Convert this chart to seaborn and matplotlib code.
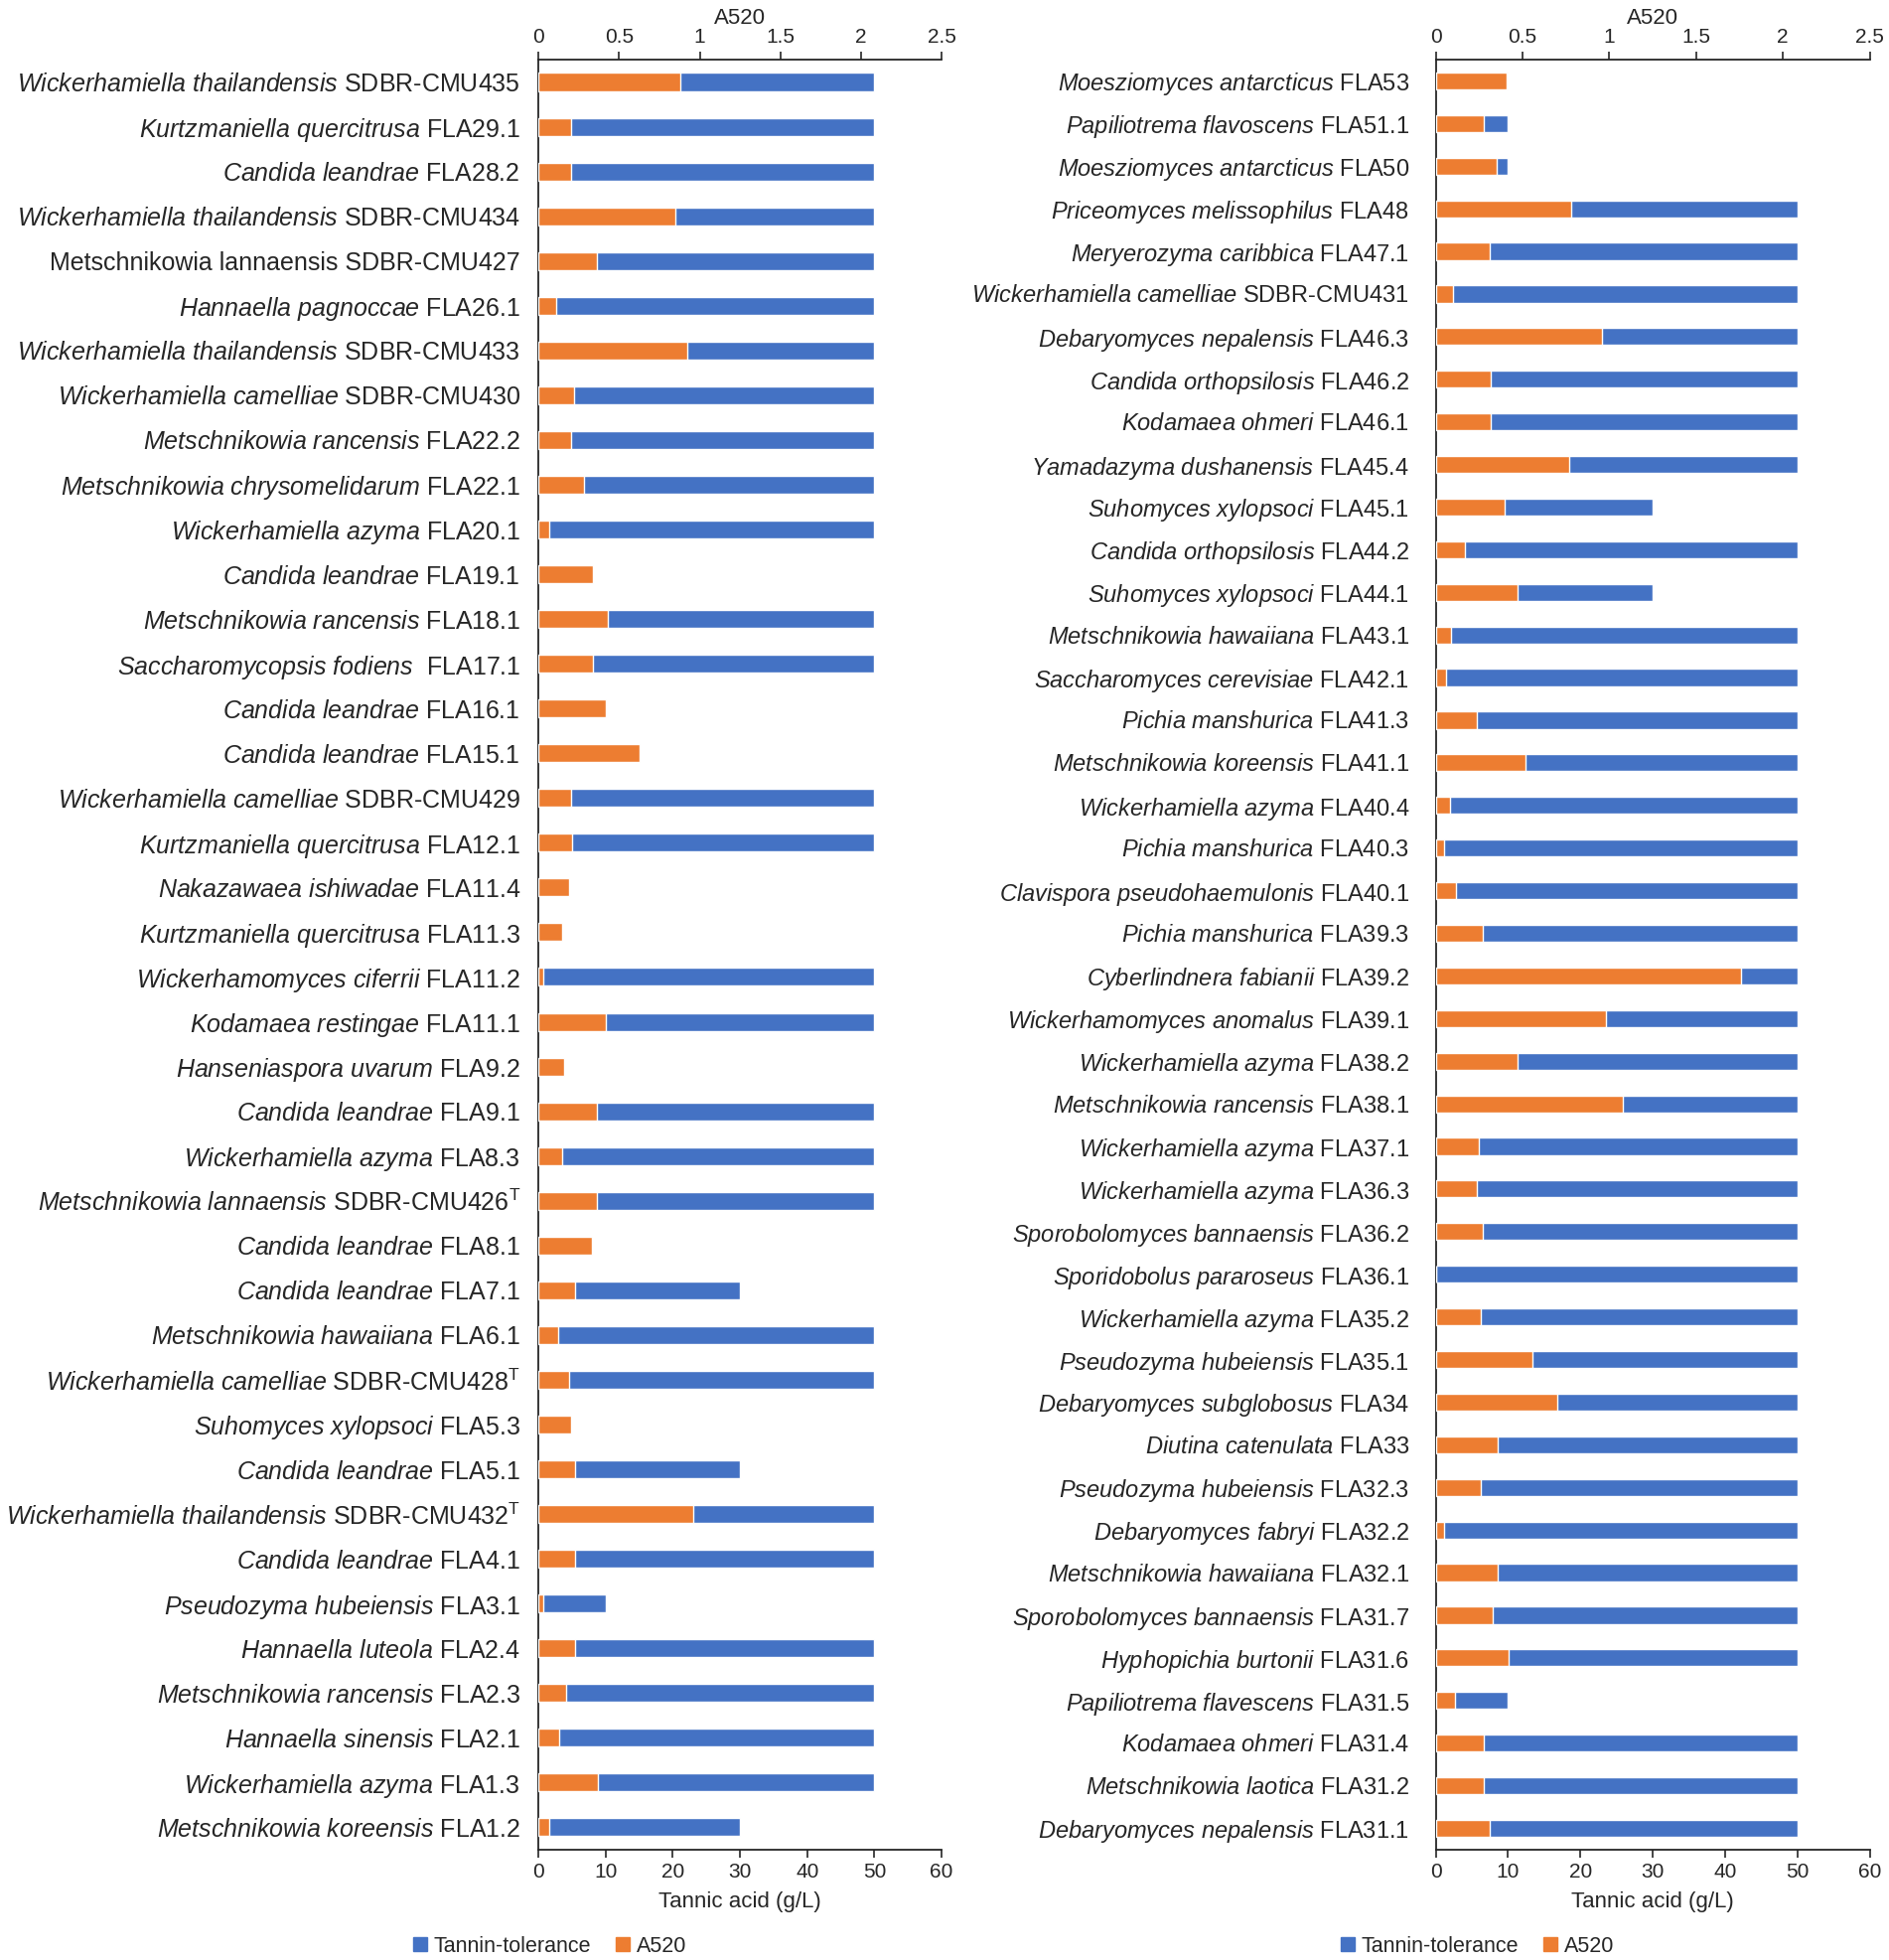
import matplotlib
matplotlib.use("Agg")
import matplotlib.pyplot as plt
from matplotlib import font_manager
from matplotlib.patches import Patch
import seaborn as sns
import pandas as pd

BLUE = "#4472C4"
ORANGE = "#ED7D31"

# --- left panel (top to bottom) ---
left_species = [
    "Wickerhamiella thailandensis", "Kurtzmaniella quercitrusa", "Candida leandrae",
    "Wickerhamiella thailandensis", "Metschnikowia lannaensis", "Hannaella pagnoccae",
    "Wickerhamiella thailandensis", "Wickerhamiella camelliae", "Metschnikowia rancensis",
    "Metschnikowia chrysomelidarum", "Wickerhamiella azyma", "Candida leandrae",
    "Metschnikowia rancensis", "Saccharomycopsis fodiens", "Candida leandrae",
    "Candida leandrae", "Wickerhamiella camelliae", "Kurtzmaniella quercitrusa",
    "Nakazawaea ishiwadae", "Kurtzmaniella quercitrusa", "Wickerhamomyces ciferrii",
    "Kodamaea restingae", "Hanseniaspora uvarum", "Candida leandrae",
    "Wickerhamiella azyma", "Metschnikowia lannaensis", "Candida leandrae",
    "Candida leandrae", "Metschnikowia hawaiiana", "Wickerhamiella camelliae",
    "Suhomyces xylopsoci", "Candida leandrae", "Wickerhamiella thailandensis",
    "Candida leandrae", "Pseudozyma hubeiensis", "Hannaella luteola",
    "Metschnikowia rancensis", "Hannaella sinensis", "Wickerhamiella azyma",
    "Metschnikowia koreensis",
]
left_strains = [
    "SDBR-CMU435", "FLA29.1", "FLA28.2", "SDBR-CMU434", "SDBR-CMU427", "FLA26.1",
    "SDBR-CMU433", "SDBR-CMU430", "FLA22.2", "FLA22.1", "FLA20.1", "FLA19.1",
    "FLA18.1", " FLA17.1", "FLA16.1", "FLA15.1", "SDBR-CMU429", "FLA12.1",
    "FLA11.4", "FLA11.3", "FLA11.2", "FLA11.1", "FLA9.2", "FLA9.1", "FLA8.3",
    "SDBR-CMU426$^{\\mathrm{T}}$", "FLA8.1", "FLA7.1", "FLA6.1",
    "SDBR-CMU428$^{\\mathrm{T}}$", "FLA5.3", "FLA5.1",
    "SDBR-CMU432$^{\\mathrm{T}}$", "FLA4.1", "FLA3.1", "FLA2.4", "FLA2.3",
    "FLA2.1", "FLA1.3", "FLA1.2",
]
# species names printed upright in the source figure
left_upright = ["SDBR-CMU427"]
left_tolerance = [50, 50, 50, 50, 50, 50, 50, 50, 50, 50, 50, 0, 50, 50, 0, 0, 50, 50, 0, 0,
                  50, 50, 0, 50, 50, 50, 0, 30, 50, 50, 0, 30, 50, 50, 10, 50, 50, 50, 50, 30]
left_a520 = [0.88, 0.20, 0.20, 0.85, 0.36, 0.11, 0.92, 0.22, 0.20, 0.28, 0.07, 0.34, 0.43,
             0.34, 0.42, 0.63, 0.20, 0.21, 0.19, 0.15, 0.03, 0.42, 0.16, 0.36, 0.15, 0.36,
             0.33, 0.23, 0.12, 0.19, 0.20, 0.23, 0.96, 0.23, 0.03, 0.23, 0.17, 0.13, 0.37,
             0.07]

# --- right panel (top to bottom) ---
right_species = [
    "Moesziomyces antarcticus", "Papiliotrema flavoscens", "Moesziomyces antarcticus",
    "Priceomyces melissophilus", "Meryerozyma caribbica", "Wickerhamiella camelliae",
    "Debaryomyces nepalensis", "Candida orthopsilosis", "Kodamaea ohmeri",
    "Yamadazyma dushanensis", "Suhomyces xylopsoci", "Candida orthopsilosis",
    "Suhomyces xylopsoci", "Metschnikowia hawaiiana", "Saccharomyces cerevisiae",
    "Pichia manshurica", "Metschnikowia koreensis", "Wickerhamiella azyma",
    "Pichia manshurica", "Clavispora pseudohaemulonis", "Pichia manshurica",
    "Cyberlindnera fabianii", "Wickerhamomyces anomalus", "Wickerhamiella azyma",
    "Metschnikowia rancensis", "Wickerhamiella azyma", "Wickerhamiella azyma",
    "Sporobolomyces bannaensis", "Sporidobolus pararoseus", "Wickerhamiella azyma",
    "Pseudozyma hubeiensis", "Debaryomyces subglobosus", "Diutina catenulata",
    "Pseudozyma hubeiensis", "Debaryomyces fabryi", "Metschnikowia hawaiiana",
    "Sporobolomyces bannaensis", "Hyphopichia burtonii", "Papiliotrema flavescens",
    "Kodamaea ohmeri", "Metschnikowia laotica", "Debaryomyces nepalensis",
]
right_strains = [
    "FLA53", "FLA51.1", "FLA50", "FLA48", "FLA47.1", "SDBR-CMU431", "FLA46.3",
    "FLA46.2", "FLA46.1", "FLA45.4", "FLA45.1", "FLA44.2", "FLA44.1", "FLA43.1",
    "FLA42.1", "FLA41.3", "FLA41.1", "FLA40.4", "FLA40.3", "FLA40.1", "FLA39.3",
    "FLA39.2", "FLA39.1", "FLA38.2", "FLA38.1", "FLA37.1", "FLA36.3", "FLA36.2",
    "FLA36.1", "FLA35.2", "FLA35.1", "FLA34", "FLA33", "FLA32.3", "FLA32.2",
    "FLA32.1", "FLA31.7", "FLA31.6", "FLA31.5", "FLA31.4", "FLA31.2", "FLA31.1",
]
right_tolerance = [10, 10, 10, 50, 50, 50, 50, 50, 50, 50, 30, 50, 30, 50, 50, 50, 50, 50,
                   50, 50, 50, 50, 50, 50, 50, 50, 50, 50, 50, 50, 50, 50, 50, 50, 50, 50,
                   50, 50, 10, 50, 50, 50]
right_a520 = [0.41, 0.28, 0.35, 0.78, 0.31, 0.10, 0.96, 0.32, 0.32, 0.77, 0.40, 0.17,
              0.47, 0.09, 0.06, 0.24, 0.52, 0.08, 0.05, 0.12, 0.27, 1.76, 0.98, 0.47,
              1.08, 0.25, 0.24, 0.27, 0.0, 0.26, 0.56, 0.70, 0.36, 0.26, 0.05, 0.36,
              0.33, 0.42, 0.11, 0.28, 0.28, 0.31]

sns.set_theme(style="ticks")
installed = {f.name for f in font_manager.fontManager.ttflist}
FONT = "Liberation Sans Narrow" if "Liberation Sans Narrow" in installed else "Liberation Sans"
plt.rcParams["font.family"] = [FONT, "DejaVu Sans"]
plt.rcParams["mathtext.fontset"] = "custom"
plt.rcParams["mathtext.rm"] = FONT
plt.rcParams["mathtext.it"] = FONT + ":italic"
plt.rcParams["axes.linewidth"] = 1.3


def make_labels(species, strains, upright=()):
    labels = []
    for sp, st in zip(species, strains):
        if st in upright:
            labels.append(f"{sp} {st}")
        else:
            sp_math = sp.replace(" ", "\\ ")
            labels.append(f"$\\mathit{{{sp_math}}}$ {st}")
    return labels


def draw_panel(rect, species, strains, tolerance, a520, upright=(), label_size=18, label_pad=8):
    labels = make_labels(species, strains, upright)
    df = pd.DataFrame({"label": labels, "tol": tolerance, "a520": a520})

    ax = fig.add_axes(rect)
    sns.barplot(data=df, y="label", x="tol", order=labels, orient="h", color=BLUE,
                saturation=1, width=0.4, errorbar=None, ax=ax)
    ax2 = ax.twiny()
    sns.barplot(data=df, y="label", x="a520", order=labels, orient="h", color=ORANGE,
                saturation=1, width=0.4, errorbar=None, ax=ax2)

    ax.set_xlim(0, 60)
    ax.set_xticks(range(0, 61, 10))
    ax2.set_xlim(0, 2.5)
    ax2.set_xticks([0, 0.5, 1, 1.5, 2, 2.5])
    ax2.set_xticklabels(["0", "0.5", "1", "1.5", "2", "2.5"])
    ax.set_ylim(len(labels) - 0.5, -0.5)

    ax.set_ylabel("")
    ax2.set_ylabel("")
    ax.set_xlabel("Tannic acid (g/L)", fontsize=16, labelpad=7)
    ax2.set_xlabel("A520", fontsize=16, labelpad=3)
    ax.tick_params(axis="y", length=0, labelsize=label_size, pad=label_pad)
    ax.tick_params(axis="x", labelsize=15, length=6, width=1.2, direction="out")
    ax2.tick_params(axis="x", labelsize=15, length=6, width=1.2, direction="out")

    for s in ["top", "right"]:
        ax.spines[s].set_visible(False)
    for s in ["left", "right", "bottom"]:
        ax2.spines[s].set_visible(False)
    return ax


fig = plt.figure(figsize=(19.02, 19.73), dpi=100)

draw_panel([0.285, 0.0563, 0.2135, 0.9133], left_species, left_strains,
           left_tolerance, left_a520, left_upright, label_size=18, label_pad=13)
draw_panel([0.760, 0.0563, 0.2298, 0.9133], right_species, right_strains,
           right_tolerance, right_a520, label_size=17, label_pad=19)

handles = [Patch(color=BLUE, label="Tannin-tolerance"), Patch(color=ORANGE, label="A520")]
for xc in [0.291, 0.782]:
    fig.legend(handles=handles, loc="center", bbox_to_anchor=(xc, 0.007), ncol=2,
               frameon=False, fontsize=15.5, handlelength=0.65, handleheight=0.65,
               handletextpad=0.3, columnspacing=1.2, borderaxespad=0)

fig.savefig("out.png", dpi=100)
